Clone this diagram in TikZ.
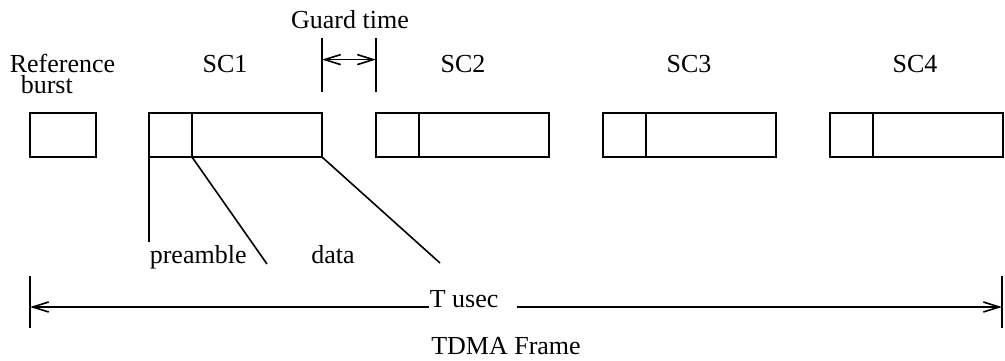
\documentclass[tikz,border=0pt]{standalone}
\usepackage{fontspec}
\setmainfont{Liberation Serif}
\usetikzlibrary{calc,arrows.meta,positioning}
\tikzstyle{burst}=[draw,rectangle,minimum height=22pt,inner sep=0pt,outer sep=0pt]
\tikzstyle{lbl}=[inner sep=0pt,anchor=base]

\begin{document}
\begin{tikzpicture}[x=0.5pt,y=-0.5pt,line width=0.8pt,font=\fontsize{13}{10.5}\selectfont,
  >={Straight Barb[length=8pt,width=5pt]}]
\useasboundingbox (0,0) rectangle (1005,360);
% bursts
\draw (63, 135) node [burst,minimum width=33pt] (ref) {};
\draw (170.5, 135) node [burst,minimum width=21.5pt] (pre1) {};
\node [burst,minimum width=65pt,right=0pt of pre1] (dat1) {};
\draw (397.5, 135) node [burst,minimum width=21.5pt] (pre2) {};
\node [burst,minimum width=65pt,right=0pt of pre2] (dat2) {};
\draw (624.5, 135) node [burst,minimum width=21.5pt] (pre3) {};
\node [burst,minimum width=65pt,right=0pt of pre3] (dat3) {};
\draw (851.5, 135) node [burst,minimum width=21.5pt] (pre4) {};
\node [burst,minimum width=65pt,right=0pt of pre4] (dat4) {};
% labels on top
\node [lbl,anchor=base west,align=left] (refl) at (9, 93) {Reference\\\hspace*{5.5pt}burst};
\node [lbl] (sc1) at (225, 72) {SC1};
\node [lbl] (sc2) at (463, 72) {SC2};
\node [lbl] (sc3) at (689, 72) {SC3};
\node [lbl] (sc4) at (915, 72) {SC4};
% guard time
\node [lbl] (guard) at (350, 28) {Guard time};
\coordinate (gl1) at (322, 38);
\coordinate (gl2) at (322, 92);
\coordinate (gr1) at (376, 38);
\coordinate (gr2) at (376, 92);
\draw (gl1) -- (gl2);
\draw (gr1) -- (gr2);
\draw[<->] ($(gl1)!0.4!(gl2)$) -- ($(gr1)!0.4!(gr2)$);
% preamble / data
\node [lbl,anchor=base west] (prel) at (149, 263) {preamble};
\node [lbl] (datl) at (333, 263) {data};
\coordinate (c1) at (149, 242);
\coordinate (c2) at (267, 264);
\coordinate (c3) at (440, 263);
\draw (pre1.south west) -- (c1);
\draw (pre1.south east) -- (c2);
\draw (dat1.south east) -- (c3);
% frame
\coordinate (fl) at (30, 307);
\coordinate (fr) at (1002, 307);
\draw (30, 276) -- (30, 328);
\draw (1002, 276) -- (1002, 328);
\node [lbl,anchor=base west] (tus) at (429, 307) {T usec};
\draw[<-] (fl) -- (tus.base west);
\draw[->,shorten <=9pt] (tus.base east) -- (fr);
\node [lbl] (tdma) at (506, 354) {TDMA Frame};
\end{tikzpicture}
\end{document}
